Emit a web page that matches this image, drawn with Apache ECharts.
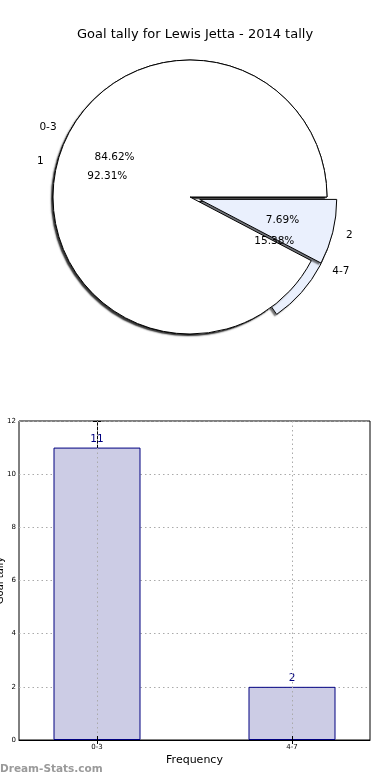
<!DOCTYPE html>
<html>
<head>
<meta charset="utf-8">
<script src="https://cdn.jsdelivr.net/npm/echarts@6/dist/echarts.min.js"></script>
<style>
html,body{margin:0;padding:0;background:#fff;}
#chart{width:390px;height:780px;}
</style>
</head>
<body>
<div id="chart"></div>
<script>
// ---- data ----
var titleText = 'Goal tally for Lewis Jetta - 2014 tally';
var outerNames = ['0-3', '4-7'];
var outerValues = [11, 2];
var innerNames = ['1', '2'];
var innerValues = [12, 1];
var barCategories = ['0-3', '4-7'];
var barValues = [11, 2];
var yTicks = [0, 2, 4, 6, 8, 10, 12];
var xAxisName = 'Frequency';
var yAxisName = 'Goal tally';
var watermark = 'Dream-Stats.com';

// ---- styles ----
var FONT = 'DejaVu Sans';
var R = 137;
var CENTER = [190, 197];
var EXPLODE = 10;
var pieColors = ['#ffffff', '#eaf0fd'];

function baseSeries(radius) {
  return {
    type: 'pie',
    center: CENTER,
    radius: radius,
    startAngle: 0,
    clockwise: false,
    avoidLabelOverlap: false,
    selectedMode: 'multiple',
    selectedOffset: EXPLODE,
    silent: true,
    animation: false,
    emphasis: {disabled: true}
  };
}
function shadowSeries(names, values) {
  return Object.assign(baseSeries(R), {
    label: {show: false},
    labelLine: {show: false},
    itemStyle: {color: '#ffffff', borderWidth: 0, shadowBlur: 1.5, shadowOffsetX: -2, shadowOffsetY: 2, shadowColor: 'rgba(0,0,0,0.55)'},
    data: names.map(function (n, i) { return {name: n, value: values[i], selected: i === 1}; })
  });
}
function shapeSeries(names, values) {
  return Object.assign(baseSeries(R), {
    label: {
      show: true, position: 'outside', formatter: '{b}',
      fontFamily: FONT, fontSize: 10.5, color: '#000', distanceToLabelLine: 0
    },
    labelLine: {show: false, length: R * 0.1, length2: 0},
    data: names.map(function (n, i) {
      return {
        name: n, value: values[i], selected: i === 1,
        itemStyle: {color: pieColors[i], borderColor: '#000', borderWidth: 1}
      };
    })
  });
}
function pctSeries(names, values) {
  return Object.assign(baseSeries(R * 1.2), {
    label: {
      show: true, position: 'inside', formatter: '{d}%',
      fontFamily: FONT, fontSize: 10.5, color: '#000'
    },
    labelLine: {show: false},
    itemStyle: {color: 'rgba(0,0,0,0)', borderWidth: 0},
    data: names.map(function (n, i) { return {name: n, value: values[i], selected: i === 1}; })
  });
}

var chart = echarts.init(document.getElementById('chart'), null, {renderer: 'canvas'});
var gridLine = {show: true, lineStyle: {color: '#aaaaaa', type: [1.5, 3], width: 1}};
var xTickValues = barCategories.map(function (c, i) { return i; });

chart.setOption({
  animation: false,
  backgroundColor: '#fff',
  title: {
    text: titleText, left: 'center', top: 23,
    textStyle: {fontFamily: FONT, fontSize: 13, fontWeight: 'normal', color: '#000'}
  },
  graphic: [{
    type: 'text', left: 0, top: 764,
    style: {text: watermark, fill: '#9a9a9a', font: 'bold 10.5px "DejaVu Sans"'}
  }],
  grid: {left: 19, right: 20, top: 421, bottom: 40, containLabel: false, outerBoundsMode: 'none',
    show: true, borderColor: '#000', borderWidth: 1, backgroundColor: 'transparent'},
  xAxis: [{
    type: 'value', min: -0.4, max: 1.4, z: 3,
    name: xAxisName, nameLocation: 'middle', nameGap: 15,
    nameTextStyle: {fontFamily: FONT, fontSize: 11, color: '#000'},
    axisLine: {show: true, lineStyle: {color: '#000'}},
    axisTick: {show: true, inside: true, length: 4, lineStyle: {color: '#000'}, customValues: xTickValues},
    axisLabel: {fontFamily: FONT, fontSize: 7, color: '#000', margin: 4,
      customValues: xTickValues,
      formatter: function (v) { return barCategories[Math.round(v)]; }},
    splitLine: gridLine
  }, {
    type: 'value', min: -0.4, max: 1.4, position: 'top',
    axisLine: {show: false},
    axisTick: {show: true, inside: true, length: 4, lineStyle: {color: '#000'}, customValues: xTickValues},
    axisLabel: {show: false, customValues: xTickValues},
    splitLine: {show: false}
  }],
  yAxis: [{
    type: 'value', min: yTicks[0], max: yTicks[yTicks.length - 1], interval: yTicks[1] - yTicks[0],
    name: yAxisName, nameLocation: 'middle', nameGap: 14, nameRotate: 90, nameMoveOverlap: false,
    nameTextStyle: {fontFamily: FONT, fontSize: 10, color: '#000'},
    axisLine: {show: true, lineStyle: {color: '#000'}},
    axisTick: {show: true, inside: true, length: 4, lineStyle: {color: '#000'}},
    axisLabel: {fontFamily: FONT, fontSize: 7, color: '#000', margin: 3},
    splitLine: gridLine
  }, {
    type: 'value', min: yTicks[0], max: yTicks[yTicks.length - 1], interval: yTicks[1] - yTicks[0], position: 'right',
    axisLine: {show: false},
    axisTick: {show: true, inside: true, length: 4, lineStyle: {color: '#000'}},
    axisLabel: {show: false},
    splitLine: {show: false}
  }],
  series: [
    shadowSeries(outerNames, outerValues),
    shapeSeries(outerNames, outerValues),
    shadowSeries(innerNames, innerValues),
    shapeSeries(innerNames, innerValues),
    pctSeries(outerNames, outerValues),
    pctSeries(innerNames, innerValues),
    {
      type: 'bar',
      xAxisIndex: 0, yAxisIndex: 0,
      barWidth: 87,
      silent: true,
      itemStyle: {color: '#ccccE5', borderColor: '#000080', borderWidth: 1},
      label: {show: true, position: 'top', distance: 3, fontFamily: FONT, fontSize: 10.5, color: '#000080'},
      data: barValues.map(function (v, i) { return [i, v]; })
    }
  ]
});
</script>
</body>
</html>
